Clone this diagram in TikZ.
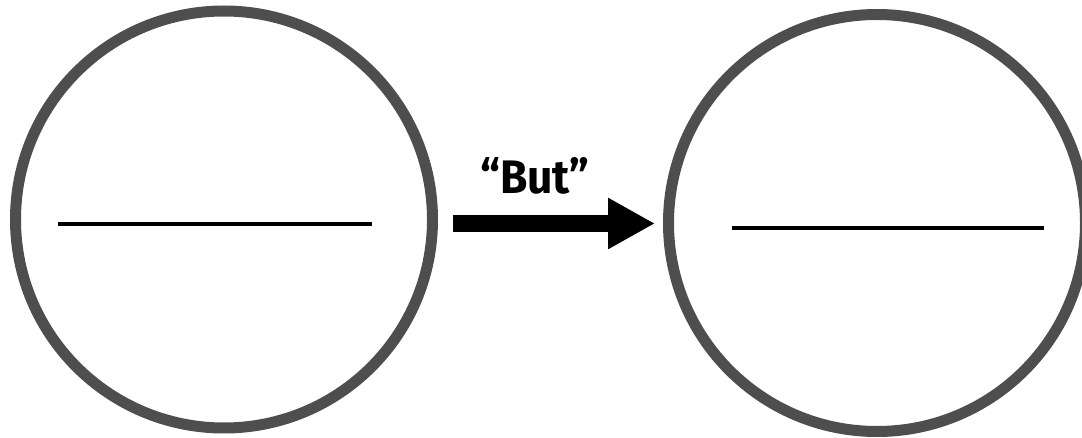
\documentclass[tikz,border=0pt]{standalone}
\usepackage{fontspec}
\setmainfont{Fira Sans}
\usetikzlibrary{arrows.meta}
\definecolor{ringgray}{RGB}{78,78,78}
\tikzset{
  ring/.style={circle, draw=ringgray, line width=11pt, minimum size=417pt, inner sep=0pt},
  bar/.style={black, line width=3.5pt},
  bigarrow/.style={black, line width=17pt, -{Triangle[length=47pt,width=48pt]}}
}
\begin{document}
\begin{tikzpicture}[x=1pt,y=-1pt]
\useasboundingbox (0,0) rectangle (1082,438);
\clip (0,0) rectangle (1082,438);
\node[ring] (L) at (224,219.5) {};
\node[ring] (R) at (877,223) {};
\draw[bar] (58,224) -- (372,224);
\draw[bar] (732,228) -- (1044,228);
\coordinate (a0) at (453,223.5);
\coordinate (a1) at (655,223.5);
\draw[bigarrow] (a0) -- (a1);
\node[anchor=base west, inner sep=0pt] (lbl) at (480,194) {\resizebox{109pt}{36pt}{\bfseries “But”}};
\end{tikzpicture}
\end{document}
